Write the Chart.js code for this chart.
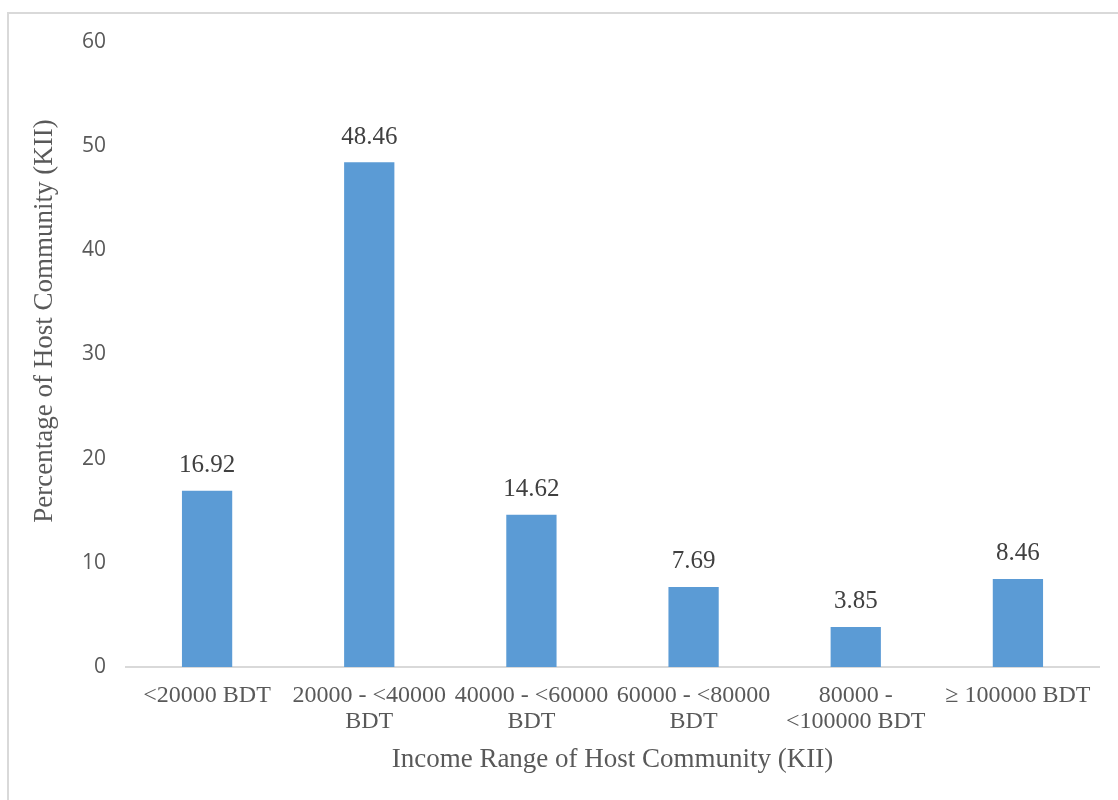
<!DOCTYPE html>
<html>
<head>
<meta charset="utf-8">
<script src="https://cdn.jsdelivr.net/npm/chart.js@4.4.0/dist/chart.umd.min.js"></script>
<style>
  html, body { margin: 0; padding: 0; background: #fff; overflow: hidden; }
  .frame { position: absolute; left: 7px; top: 12px; width: 1130px; height: 800px; border-left: 2px solid #d9d9d9; border-top: 2px solid #d9d9d9; }
  .wrap { position: absolute; left: 0; top: 0; width: 1118px; height: 800px; }
</style>
</head>
<body>
<div class="frame"></div>
<div class="wrap"><canvas id="incomeChart"></canvas></div>
<script>
const categories = [
  ["<20000 BDT"],
  ["20000 - <40000", "BDT"],
  ["40000 - <60000", "BDT"],
  ["60000 - <80000", "BDT"],
  ["80000 -", "<100000 BDT"],
  ["\u2265 100000 BDT"]
];
const percentages = [16.92, 48.46, 14.62, 7.69, 3.85, 8.46];
const yTitle = "Percentage of Host Community (KII)";
const xTitle = "Income Range of Host Community (KII)";

const serif = "'Liberation Serif', 'Times New Roman', serif";

// values above the bars
const barLabels = {
  id: "barLabels",
  afterDatasetsDraw(chart) {
    const ctx = chart.ctx;
    const meta = chart.getDatasetMeta(0);
    ctx.save();
    ctx.font = "25px " + serif;
    ctx.fillStyle = "#404040";
    ctx.textAlign = "center";
    ctx.textBaseline = "middle";
    meta.data.forEach((bar, i) => {
      ctx.fillText(percentages[i].toFixed(2), bar.x, bar.y - 25);
    });
    ctx.restore();
  }
};

// y title sits a bit above the plot centre, like the original
const yTitlePlugin = {
  id: "yTitlePlugin",
  afterDraw(chart) {
    const ctx = chart.ctx;
    ctx.save();
    ctx.translate(45, 321);
    ctx.rotate(-Math.PI / 2);
    ctx.font = "27px " + serif;
    ctx.fillStyle = "#595959";
    ctx.textAlign = "center";
    ctx.textBaseline = "middle";
    ctx.fillText(yTitle, 0, 0);
    ctx.restore();
  }
};

new Chart(document.getElementById("incomeChart"), {
  type: "bar",
  data: {
    labels: categories,
    datasets: [{
      data: percentages,
      backgroundColor: "#5b9bd5",
      barPercentage: 0.31,
      categoryPercentage: 1
    }]
  },
  options: {
    responsive: true,
    maintainAspectRatio: false,
    animation: false,
    layout: { padding: { top: 42, right: 19, bottom: 0, left: 0 } },
    plugins: { legend: { display: false }, tooltip: { enabled: false } },
    scales: {
      x: {
        grid: { display: false, drawTicks: false },
        border: { display: true, color: "#d9d9d9", width: 2 },
        ticks: { color: "#595959", padding: 16, maxRotation: 0, autoSkip: false, font: { family: serif, size: 24, lineHeight: "26px" } },
        title: { display: true, text: xTitle, color: "#595959", font: { family: serif, size: 27 }, padding: { top: 0, bottom: 24 } },
        afterFit(scale) { scale.height = 133; }
      },
      y: {
        min: 0, max: 60,
        grid: { display: false, drawTicks: false },
        border: { display: false },
        ticks: { stepSize: 10, color: "#595959", padding: 20, font: { family: "'Open Sans', sans-serif", size: 21 } },
        afterFit(scale) { scale.width = 126; }
      }
    }
  },
  plugins: [barLabels, yTitlePlugin]
});
</script>
</body>
</html>
